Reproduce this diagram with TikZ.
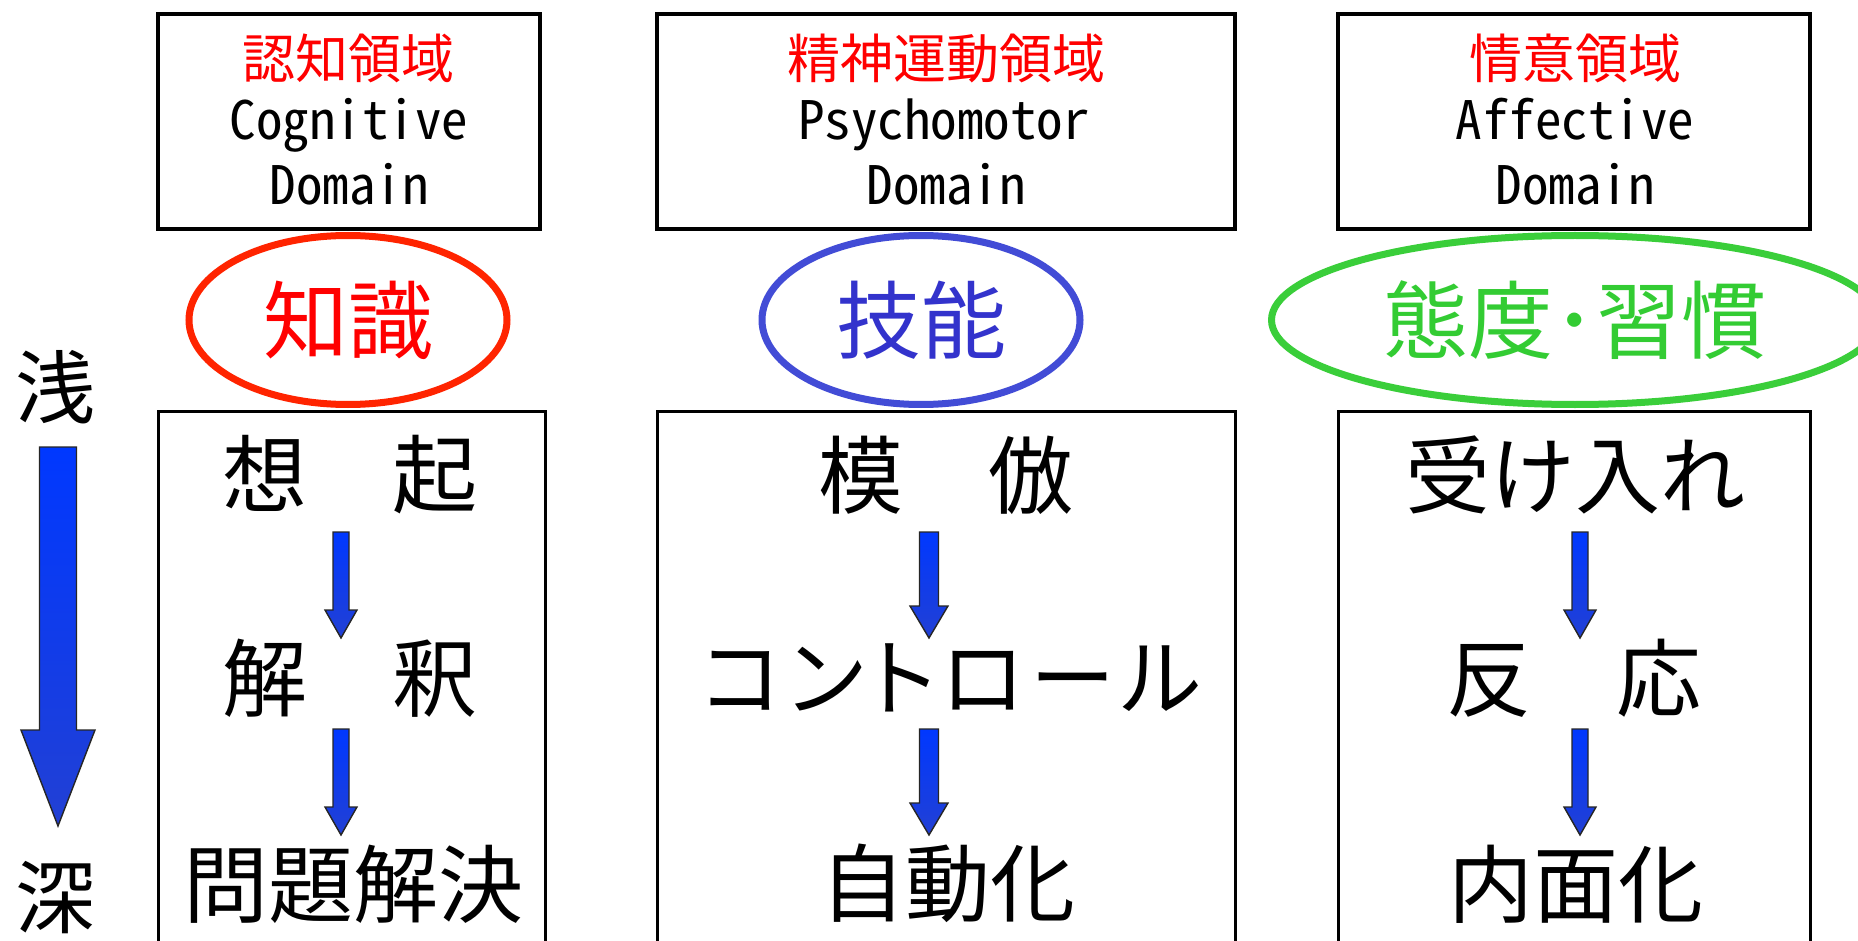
\documentclass[tikz,border=0pt]{standalone}
\usepackage{fontspec}
\usepackage{graphicx}
\setmainfont{Noto Sans CJK JP}
\newfontfamily\hwfont{Noto Sans CJK JP}[RawFeature={+hwid;-liga}]
\newfontfamily\paltfont{Noto Sans CJK JP}[RawFeature=+palt, LetterSpace=7.4]
\usetikzlibrary{calc,shapes.geometric}
\definecolor{hdrred}{RGB}{255,0,0}
\definecolor{ellred}{RGB}{255,36,0}
\definecolor{ellblue}{RGB}{66,76,214}
\definecolor{txtblue}{RGB}{51,51,204}
\definecolor{ellgreen}{RGB}{58,206,58}
\definecolor{txtgreen}{RGB}{51,204,51}
\definecolor{arrtop}{RGB}{0,56,255}
\definecolor{arrbot}{RGB}{34,64,212}
\newcommand\blkarrow[5]{%
  \path[arrowsty] let \p1=(#1), \p2=(#2) in
    (\x1-#3,\y1) -- (\x1+#3,\y1) -- (\x1+#3,\y2+#5) -- (\x1+#4,\y2+#5)
    -- (\x2,\y2) -- (\x1-#4,\y2+#5) -- (\x1-#3,\y2+#5) -- cycle;}
\begin{document}
\begin{tikzpicture}[x=1pt,y=-1pt,
  hdrbox/.style={draw=black, line width=3.5pt, minimum width=#1, minimum height=215pt, inner sep=0pt},
  lowbox/.style={draw=black, line width=3pt, minimum width=#1, minimum height=549pt, inner sep=0pt},
  ell/.style={ellipse, line width=7pt, minimum height=169pt, inner sep=0pt, font=\fontsize{85}{100}\selectfont},
  hdrjp/.style={inner sep=0pt, text=hdrred, font=\fontsize{53}{64}\selectfont},
  hdrlat/.style={inner sep=0pt, anchor=base, font=\hwfont\fontsize{53}{64}\selectfont},
  body/.style={inner sep=0pt, font=\fontsize{85}{100}\selectfont},
  side/.style={inner sep=0pt, font=\fontsize{80}{96}\selectfont},
  arrowsty/.style={draw=black!85, line width=1.4pt, top color=arrtop, bottom color=arrbot}
]
\useasboundingbox (0,0) rectangle (1858,941);
\clip (0,0) rectangle (1858,941);
\fill[white] (0,0) rectangle (1858,941);

% header boxes
\node[hdrbox=382pt] (hb1) at (349,121.5) {};
\node[hdrbox=578pt] (hb2) at (946,121.5) {};
\node[hdrbox=472pt] (hb3) at (1574,121.5) {};

\node[hdrjp] (h1a) at (348,58) {認知領域};
\node[hdrlat] (h1b) at (349,140) {Cognitive};
\node[hdrlat] (h1c) at (349,205) {Domain};
\node[hdrjp] (h2a) at (946,58) {精神運動領域};
\node[hdrlat] (h2b) at (944,140) {Psychomotor};
\node[hdrlat] (h2c) at (946,205) {Domain};
\node[hdrjp] (h3a) at (1575,58) {情意領域};
\node[hdrlat] (h3b) at (1575,140) {Affective};
\node[hdrlat] (h3c) at (1575,205) {Domain};

% lower boxes
\node[lowbox=387pt] (lb1) at (351.5,685.5) {};
\node[lowbox=578pt] (lb2) at (946,685.5) {};
\node[lowbox=472pt] (lb3) at (1574,685.5) {};

% ellipses
\node[ell, draw=ellred, text=hdrred, minimum width=318pt] (e1) at (348,320) {知識};
\node[ell, draw=ellblue, text=txtblue, minimum width=318pt] (e2) at (921,320) {技能};
\node[ell, draw=ellgreen, text=txtgreen, minimum width=607pt] (e3) at (1575,320) {態度･習慣};

% side labels and big arrow
\node[side] (shallow) at (55,387) {浅};
\node[side] (deep) at (55,898) {深};
\coordinate (bigs) at (58,447);
\coordinate (bige) at (58,826);
\blkarrow{bigs}{bige}{18.5pt}{37pt}{96pt}

% column 1
\node[body] (c1r1) at (350,475) {想　起};
\node[body] (c1r2) at (350,678) {解　釈};
\node[body] (c1r3) at (353,884) {問題解決};
% column 2
\node[body] (c2r1) at (946,475) {模　倣};
\node[body, font=\paltfont\fontsize{85}{100}\selectfont] (c2r2) at (951,678) {コントロール};
\node[body] (c2r3) at (948,883) {自動化};
% column 3
\node[body] (c3r1) at (1575,475) {受け入れ};
\node[body] (c3r2) at (1574,678) {反　応};
\node[body] (c3r3) at (1576,884) {内面化};

% small arrows
\coordinate (a11s) at (341,532); \coordinate (a11e) at (341,638);
\coordinate (a12s) at (341,729); \coordinate (a12e) at (341,835);
\coordinate (a21s) at (929,532); \coordinate (a21e) at (929,638);
\coordinate (a22s) at (929,729); \coordinate (a22e) at (929,835);
\coordinate (a31s) at (1580,532); \coordinate (a31e) at (1580,638);
\coordinate (a32s) at (1580,729); \coordinate (a32e) at (1580,835);
\blkarrow{a11s}{a11e}{8pt}{16pt}{28pt}
\blkarrow{a12s}{a12e}{8pt}{16pt}{28pt}
\blkarrow{a21s}{a21e}{9.5pt}{19pt}{32pt}
\blkarrow{a22s}{a22e}{9.5pt}{19pt}{32pt}
\blkarrow{a31s}{a31e}{8pt}{16pt}{28pt}
\blkarrow{a32s}{a32e}{8pt}{16pt}{28pt}
\end{tikzpicture}
\end{document}
